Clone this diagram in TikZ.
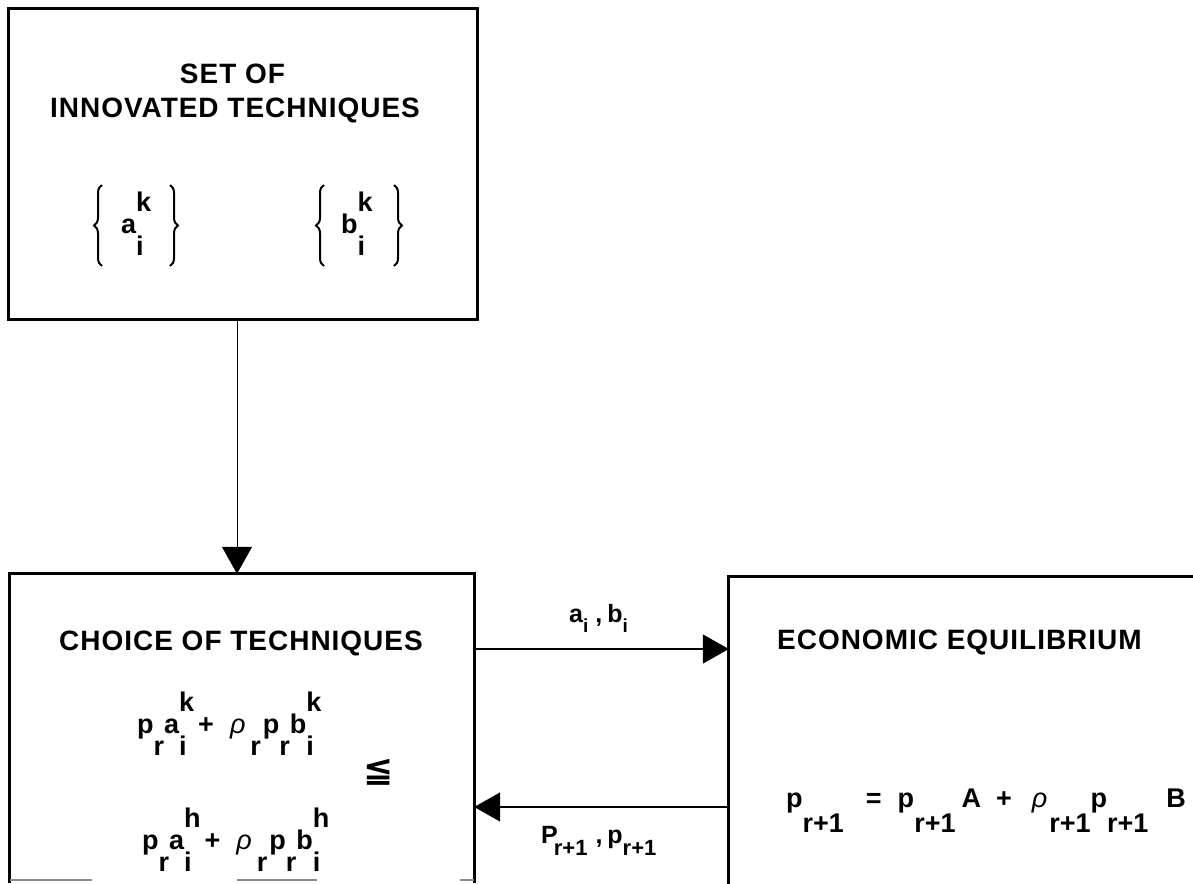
\documentclass[tikz,border=0pt]{standalone}
\usepackage{fontspec}
\setmainfont{Liberation Sans}
\newfontfamily\hdfont{Liberation Sans}[LetterSpace=3.5]
\newfontfamily\fmfont{Liberation Sans}
\newfontfamily\symfont{DejaVu Sans}
\usetikzlibrary{arrows.meta,decorations.pathreplacing}
\newcommand\SupSub[3]{#1\begingroup\setbox0\hbox{\raisebox{0.78em}{#2}}\setbox2\hbox{\raisebox{-0.82em}{#3}}\ifdim\wd0>\wd2\relax\rlap{\box2}\box0\else\rlap{\box0}\box2\fi\endgroup}
\newcommand\LowSub[3]{#1\raisebox{-#3}{#2}}
\newcommand\rh{{\mdseries\itshape ρ}}
\begin{document}
\begin{tikzpicture}[x=1pt,y=-1pt,
  boxframe/.style={line width=3pt},
  head/.style={font=\hdfont\bfseries\fontsize{28}{32}\selectfont, inner sep=0pt, anchor=base},
  fm/.style={font=\fmfont\bfseries\fontsize{27}{30}\selectfont, inner sep=0pt, anchor=base west},
  lab/.style={font=\fmfont\bfseries\fontsize{25}{28}\selectfont, inner sep=0pt, anchor=base west},
  link/.style={line width=1.6pt, -{Triangle[length=26pt,width=29pt]}},
  curly/.style={decorate, decoration={brace, amplitude=8pt}, line width=2pt},
  frag/.style={draw=black!45, line width=1.5pt}
]
\useasboundingbox (0,0) rectangle (1193,883);

% boxes
\node[draw, boxframe, minimum width=469pt, minimum height=310pt, inner sep=0pt] (top) at (242.5,164) {};
\node[minimum width=464pt, minimum height=309pt, inner sep=0pt] (choice) at (242,728.5) {};
\node[minimum width=471pt, minimum height=313pt, inner sep=0pt] (equil) at (964.5,733.5) {};
\draw[boxframe] (choice.south west) |- (choice.north east) -- (choice.south east);
\draw[boxframe] (equil.south west) |- (equil.north east);
\draw[frag] ([yshift=3pt]choice.south west) -- ++(82,0);
\draw[frag] ([xshift=-5pt,yshift=3pt]choice.south) -- ++(80,0);
\draw[frag] ([xshift=-14pt,yshift=3pt]choice.south east) -- ++(14,0);

% top box text
\node[head] (t1) at (232.5,83) {SET OF};
\node[head] (t2) at (235,117) {INNOVATED TECHNIQUES};
\node[fm] (ak) at (121,233) {\SupSub{a}{k}{i}};
\node[fm] (bk) at (341,233) {\SupSub{b}{k}{i}};
\draw[curly] (102,266) -- (102,185);
\draw[curly] (170,185) -- (170,266);
\draw[curly] (324,266) -- (324,185);
\draw[curly] (394,185) -- (394,266);

% choice box text
\node[head] (c1) at (241,650) {CHOICE OF TECHNIQUES};
\node[fm] (f1) at (137,733) {\SupSub{p}{}{r}\SupSub{a}{k}{i}\hspace{4pt}+\hspace{16pt}\rh\hspace{5pt}\SupSub{}{}{r}\hspace{2pt}\SupSub{p}{}{r}\SupSub{b}{k}{i}};
\node[fm] (f2) at (142,849) {\SupSub{p}{}{r}\SupSub{a}{h}{i}\hspace{4pt}+\hspace{16pt}\rh\hspace{5pt}\SupSub{}{}{r}\hspace{2pt}\SupSub{p}{}{r}\SupSub{b}{h}{i}};
\node[inner sep=0pt, font=\symfont\bfseries\fontsize{36}{36}\selectfont] (le) at (379,772) {≦};

% equilibrium box text
\node[head, anchor=base west] (e1) at (777,649) {ECONOMIC EQUILIBRIUM};
\node[fm] (eq) at (786,807) {\LowSub{p}{r+1}{0.93em}\hspace{22pt}=\hspace{16pt}\LowSub{p}{r+1}{0.93em}\hspace{6pt}A\hspace{15pt}+\hspace{20pt}\rh\hspace{2pt}\LowSub{}{r+1}{0.93em}\LowSub{p}{r+1}{0.93em}\hspace{18pt}B};

% connectors
\draw[line width=1pt, -{Triangle[length=27pt,width=30pt]}] ([xshift=-5.5pt]top.south) -- ([xshift=-5pt]choice.north);
\coordinate (yr) at (0,649);
\coordinate (yl) at (0,807);
\draw[link] (choice.east |- yr) -- (equil.west |- yr);
\draw[link] (equil.west |- yl) -- (choice.east |- yl);
\node[lab] (l1) at (569,622) {a\raisebox{-0.42em}{\fontsize{19}{20}\selectfont i}\hspace{7pt},\hspace{5pt}b\raisebox{-0.42em}{\fontsize{19}{20}\selectfont i}};
\node[lab] (l2) at (541,843) {P\hspace{-4pt}\raisebox{-0.5em}{\fontsize{22}{24}\selectfont r+1}\hspace{8pt},\hspace{5pt}p\raisebox{-0.5em}{\fontsize{22}{24}\selectfont r+1}};
\end{tikzpicture}
\end{document}
